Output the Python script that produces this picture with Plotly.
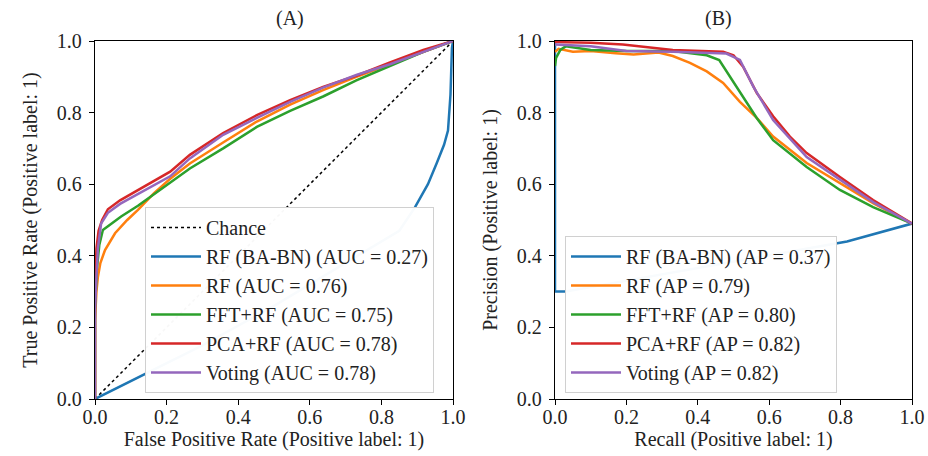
import plotly.graph_objects as go

# ---------------- ROC curves (panel A) ----------------
chance_x = [0.0, 1.0]
chance_y = [0.0, 1.0]

roc_babn_fpr = [0.0, 0.134, 0.3, 0.5, 0.7, 0.85, 0.894, 0.93, 0.955, 0.975, 0.986, 0.993, 0.997, 1.0]
roc_babn_tpr = [0.0, 0.067, 0.15, 0.26, 0.38, 0.47, 0.536, 0.6, 0.66, 0.71, 0.75, 0.85, 0.98, 1.0]

roc_rf_fpr = [0.0, 0.0, 0.004, 0.008, 0.015, 0.028, 0.056, 0.09, 0.12, 0.165, 0.21, 0.265, 0.36,
              0.452, 0.545, 0.637, 0.73, 0.824, 0.917, 1.0]
roc_rf_tpr = [0.0, 0.22, 0.30, 0.34, 0.38, 0.416, 0.463, 0.50, 0.528, 0.575, 0.615, 0.658, 0.718,
              0.775, 0.822, 0.863, 0.90, 0.935, 0.97, 1.0]

roc_fft_fpr = [0.0, 0.0, 0.005, 0.012, 0.022, 0.045, 0.073, 0.12, 0.168, 0.265, 0.358, 0.452,
               0.545, 0.637, 0.73, 0.824, 0.917, 1.0]
roc_fft_tpr = [0.0, 0.25, 0.36, 0.43, 0.472, 0.49, 0.51, 0.54, 0.575, 0.644, 0.70, 0.76,
               0.805, 0.845, 0.89, 0.93, 0.97, 1.0]

roc_pca_fpr = [0.0, 0.0, 0.004, 0.01, 0.02, 0.036, 0.07, 0.12, 0.21, 0.265, 0.358, 0.452,
               0.545, 0.637, 0.73, 0.824, 0.917, 1.0]
roc_pca_tpr = [0.0, 0.3, 0.42, 0.47, 0.50, 0.53, 0.555, 0.584, 0.635, 0.682, 0.743, 0.793,
               0.835, 0.872, 0.903, 0.94, 0.975, 1.0]

roc_vote_fpr = [0.0, 0.0, 0.004, 0.008, 0.017, 0.036, 0.07, 0.12, 0.21, 0.265, 0.358, 0.452,
                0.545, 0.637, 0.73, 0.824, 0.917, 1.0]
roc_vote_tpr = [0.0, 0.25, 0.34, 0.42, 0.49, 0.52, 0.545, 0.572, 0.622, 0.672, 0.738, 0.785,
                0.83, 0.87, 0.905, 0.935, 0.97, 1.0]

# ---------------- Precision-recall curves (panel B) ----------------
pr_babn_rec = [0.0, 0.0, 0.03, 0.818, 1.0]
pr_babn_prec = [1.0, 0.30, 0.30, 0.44, 0.49]

pr_rf_rec = [0.0, 0.01, 0.05, 0.1, 0.17, 0.22, 0.29, 0.33, 0.378, 0.425, 0.471, 0.518, 0.565,
             0.611, 0.705, 0.798, 0.891, 1.0]
pr_rf_prec = [0.97, 0.978, 0.97, 0.972, 0.966, 0.962, 0.968, 0.958, 0.939, 0.915, 0.883, 0.83,
              0.785, 0.733, 0.659, 0.603, 0.547, 0.49]

pr_fft_rec = [0.0, 0.003, 0.015, 0.03, 0.1, 0.2, 0.33, 0.425, 0.46, 0.49, 0.518, 0.565, 0.611,
              0.705, 0.798, 0.891, 1.0]
pr_fft_prec = [0.93, 0.953, 0.975, 0.985, 0.975, 0.972, 0.972, 0.96, 0.947, 0.90, 0.855, 0.785,
               0.723, 0.648, 0.584, 0.536, 0.49]

pr_pca_rec = [0.0, 0.1, 0.19, 0.33, 0.471, 0.5, 0.527, 0.565, 0.611, 0.658, 0.705, 0.798, 0.891, 1.0]
pr_pca_prec = [0.997, 0.995, 0.99, 0.975, 0.97, 0.96, 0.928, 0.855, 0.79, 0.733, 0.687, 0.62,
               0.556, 0.49]

pr_vote_rec = [0.0, 0.1, 0.2, 0.33, 0.48, 0.518, 0.556, 0.611, 0.705, 0.798, 0.891, 1.0]
pr_vote_prec = [0.99, 0.985, 0.972, 0.97, 0.965, 0.947, 0.872, 0.779, 0.676, 0.612, 0.55, 0.49]

# ---------------- legend labels ----------------
roc_names = ["RF (BA-BN) (AUC = 0.27)", "RF (AUC = 0.76)", "FFT+RF (AUC = 0.75)",
             "PCA+RF (AUC = 0.78)", "Voting (AUC = 0.78)"]
pr_names = ["RF (BA-BN) (AP = 0.37)", "RF (AP = 0.79)", "FFT+RF (AP = 0.80)",
            "PCA+RF (AP = 0.82)", "Voting (AP = 0.82)"]
colors = ["#1f77b4", "#ff7f0e", "#2ca02c", "#d62728", "#9467bd"]

FONT = "Liberation Serif"
FS = 20
TXT = "#222222"
LW = 2.5

fig = go.Figure()

fig.add_trace(go.Scatter(x=chance_x, y=chance_y, mode="lines", name="Chance",
                         line=dict(color="black", width=1.5, dash="dot"),
                         xaxis="x", yaxis="y", legend="legend", legendgroup="c"))

roc_series = [(roc_babn_fpr, roc_babn_tpr), (roc_rf_fpr, roc_rf_tpr), (roc_fft_fpr, roc_fft_tpr),
              (roc_pca_fpr, roc_pca_tpr), (roc_vote_fpr, roc_vote_tpr)]
for i, ((xs, ys), nm, col) in enumerate(zip(roc_series, roc_names, colors)):
    fig.add_trace(go.Scatter(x=xs, y=ys, mode="lines", name=nm,
                             line=dict(color=col, width=LW),
                             xaxis="x", yaxis="y", legend="legend", legendgroup=f"r{i}"))

pr_series = [(pr_babn_rec, pr_babn_prec), (pr_rf_rec, pr_rf_prec), (pr_fft_rec, pr_fft_prec),
             (pr_pca_rec, pr_pca_prec), (pr_vote_rec, pr_vote_prec)]
for i, ((xs, ys), nm, col) in enumerate(zip(pr_series, pr_names, colors)):
    fig.add_trace(go.Scatter(x=xs, y=ys, mode="lines", name=nm,
                             line=dict(color=col, width=LW),
                             xaxis="x2", yaxis="y2", legend="legend2", legendgroup=f"p{i}"))

W, H = 928, 456
ydom = [(H - 399) / H, (H - 41) / H]

axis_common = dict(range=[0, 1], showgrid=False, zeroline=False, showline=True,
                   linecolor="black", linewidth=1.3, mirror=True, automargin=False,
                   ticks="outside", ticklen=5, tickwidth=1.3, tickcolor="black",
                   tickvals=[0, 0.2, 0.4, 0.6, 0.8, 1.0], tickformat=".1f",
                   tickfont=dict(family=FONT, size=FS, color=TXT))

legend_common = dict(bgcolor="rgba(255,255,255,0.97)", bordercolor="#d0d0d0", borderwidth=1,
                     font=dict(family=FONT, size=FS, color=TXT), tracegroupgap=0,
                     itemwidth=50,
                     xref="paper", yref="paper", xanchor="left", yanchor="bottom")

title_font = dict(family=FONT, size=FS, color=TXT)

fig.update_layout(
    width=W, height=H,
    margin=dict(l=0, r=0, t=0, b=0),
    paper_bgcolor="white", plot_bgcolor="white",
    font=dict(family=FONT, size=FS, color=TXT),
    xaxis=dict(domain=[95 / W, 453 / W], anchor="y", ticklabelstandoff=-5,
               title=dict(text="False Positive Rate (Positive label: 1)", standoff=3,
                          font=title_font),
               **axis_common),
    yaxis=dict(domain=ydom, anchor="x", ticklabelstandoff=3,
               title=dict(text="True Positive Rate (Positive label: 1)", standoff=13,
                          font=title_font),
               **axis_common),
    xaxis2=dict(domain=[555 / W, 912 / W], anchor="y2", ticklabelstandoff=-5,
                title=dict(text="Recall (Positive label: 1)", standoff=3, font=title_font),
                **axis_common),
    yaxis2=dict(domain=ydom, anchor="x2", ticklabelstandoff=3,
                title=dict(text="Precision (Positive label: 1)", standoff=13, font=title_font),
                **axis_common),
    legend=dict(x=145 / W, y=(H - 393) / H, **legend_common),
    legend2=dict(x=565 / W, y=(H - 393) / H, **legend_common),
    annotations=[
        dict(text="(A)", x=(95 + 453) / 2 / W, y=(H - 19) / H, xref="paper", yref="paper",
             showarrow=False, font=dict(family=FONT, size=FS, color=TXT), yanchor="middle"),
        dict(text="(B)", x=(555 + 912) / 2 / W, y=(H - 19) / H, xref="paper", yref="paper",
             showarrow=False, font=dict(family=FONT, size=FS, color=TXT), yanchor="middle"),
    ],
    showlegend=True,
)

fig.write_html("out.html")
